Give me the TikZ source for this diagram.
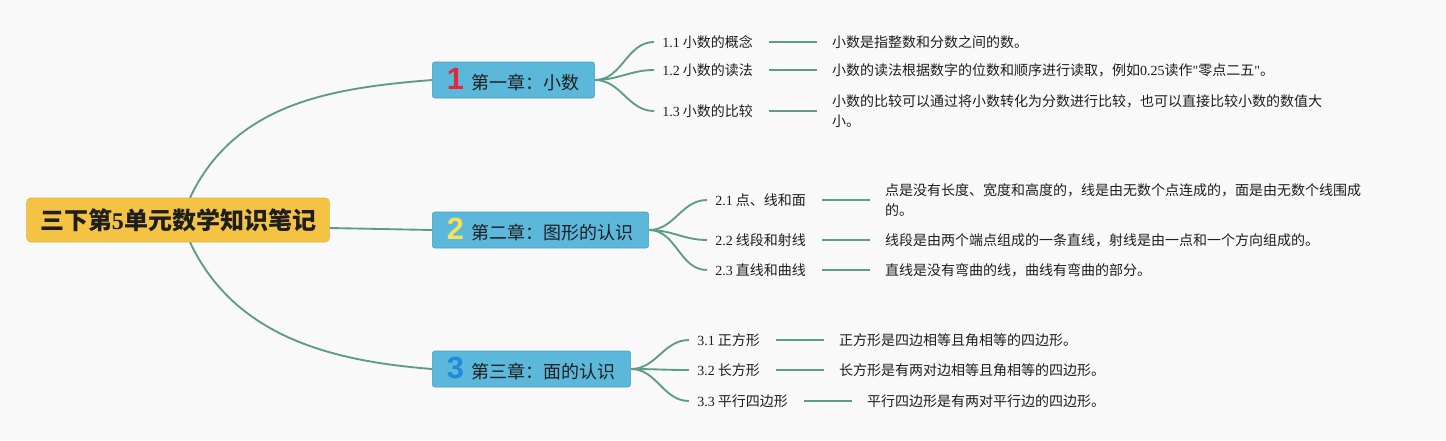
\documentclass[tikz,border=0pt]{standalone}
\usepackage{fontspec}
\setmainfont{Noto Sans CJK SC}
\newfontfamily\latinserif[Ligatures=TeXOff]{Liberation Serif}
\newfontfamily\badgefont{Liberation Sans}
\usetikzlibrary{positioning}
\definecolor{PageBg}{HTML}{F9F9F9}
\definecolor{RootYellow}{HTML}{F4C344}
\definecolor{ChapterBlue}{HTML}{5BB8DB}
\definecolor{ChapterEdge}{HTML}{4A9CC0}
\definecolor{BranchTeal}{HTML}{5E9C87}
\definecolor{BadgeRed}{HTML}{E3283A}
\definecolor{BadgeYellow}{HTML}{F6E25A}
\definecolor{BadgeBlue}{HTML}{1F8AD8}
\definecolor{TextDark}{HTML}{1E1E1E}

\newcommand{\dg}[1]{{\latinserif #1}}
\newcommand{\badge}[2]{{\badgefont\bfseries\fontsize{23}{23}\selectfont\color{#1}#2}\hspace{6pt}}

\begin{document}
\begin{tikzpicture}[
  x=0.75pt, y=-0.75pt,
  every node/.style={font=\fontsize{10.5}{15.5}\selectfont, text=TextDark},
  root/.style={rectangle, rounded corners=3pt, fill=RootYellow, draw=RootYellow!92!black,
               inner xsep=10pt, minimum height=33pt, font=\fontsize{18}{20}\selectfont\bfseries},
  chapter/.style={rectangle, rounded corners=2pt, fill=ChapterBlue, draw=ChapterEdge,
                  inner xsep=11pt, inner ysep=2pt, minimum height=27pt, anchor=west,
                  font=\fontsize{13.5}{16}\selectfont},
  topic/.style={anchor=west, inner xsep=6pt},
  note/.style={align=left, inner xsep=6pt},
  branch/.style={draw=BranchTeal, line width=1.4pt},
  link/.style={draw=BranchTeal, line width=1.4pt, shorten <=6pt, shorten >=5pt}
]

\fill[PageBg] (0,0) rectangle (1446,440);
\useasboundingbox (0,0) rectangle (1446,440);

% Nodes
\node[root] (root) at (178,220) {三下第\dg{5}单元数学知识笔记};

\node[chapter] (c1) at (432,80) {\badge{BadgeRed}{1}第一章：小数};
\node[chapter] (c2) at (432,230) {\badge{BadgeYellow}{2}第二章：图形的认识};
\node[chapter] (c3) at (432,369) {\badge{BadgeBlue}{3}第三章：面的认识};

\node[topic] (t11) at (654,42) {\dg{1.1} 小数的概念};
\node[topic] (t12) at (654,70) {\dg{1.2} 小数的读法};
\node[topic] (t13) at (654,111) {\dg{1.3} 小数的比较};

\node[topic] (t21) at (707,200) {\dg{2.1} 点、线和面};
\node[topic] (t22) at (707,240) {\dg{2.2} 线段和射线};
\node[topic] (t23) at (707,270) {\dg{2.3} 直线和曲线};

\node[topic] (t31) at (689,340) {\dg{3.1} 正方形};
\node[topic] (t32) at (689,370) {\dg{3.2} 长方形};
\node[topic] (t33) at (689,401) {\dg{3.3} 平行四边形};

\node[note, right=47pt of t11] (n11) {小数是指整数和分数之间的数。};
\node[note, right=47pt of t12] (n12) {小数的读法根据数字的位数和顺序进行读取，例如\dg{0.25}读作\dg{"}零点二五\dg{"}。};
\node[note, right=47pt of t13] (n13) {小数的比较可以通过将小数转化为分数进行比较，也可以直接比较小数的数值大\\小。};

\node[note, right=47pt of t21] (n21) {点是没有长度、宽度和高度的，线是由无数个点连成的，面是由无数个线围成\\的。};
\node[note, right=47pt of t22] (n22) {线段是由两个端点组成的一条直线，射线是由一点和一个方向组成的。};
\node[note, right=47pt of t23] (n23) {直线是没有弯曲的线，曲线有弯曲的部分。};

\node[note, right=47pt of t31] (n31) {正方形是四边相等且角相等的四边形。};
\node[note, right=47pt of t32] (n32) {长方形是有两对边相等且角相等的四边形。};
\node[note, right=47pt of t33] (n33) {平行四边形是有两对平行边的四边形。};

% Branches
\draw[branch] ([xshift=9pt]root.north) .. controls +(45,-95) and +(-100,8) .. (c1.west);
\draw[branch] ([yshift=-6pt]root.east) -- (c2.west);
\draw[branch] ([xshift=9pt]root.south) .. controls +(45,95) and +(-100,-8) .. (c3.west);

\foreach \t in {t11,t12,t13} \draw[branch] (c1.east) to[out=0, in=180] (\t.west);
\foreach \t in {t21,t22,t23} \draw[branch] (c2.east) to[out=0, in=180] (\t.west);
\foreach \t in {t31,t32,t33} \draw[branch] (c3.east) to[out=0, in=180] (\t.west);

% Links to notes
\foreach \n in {11,12,13,21,22,23,31,32,33} \draw[link] (t\n.east) -- (n\n.west);

\end{tikzpicture}
\end{document}
